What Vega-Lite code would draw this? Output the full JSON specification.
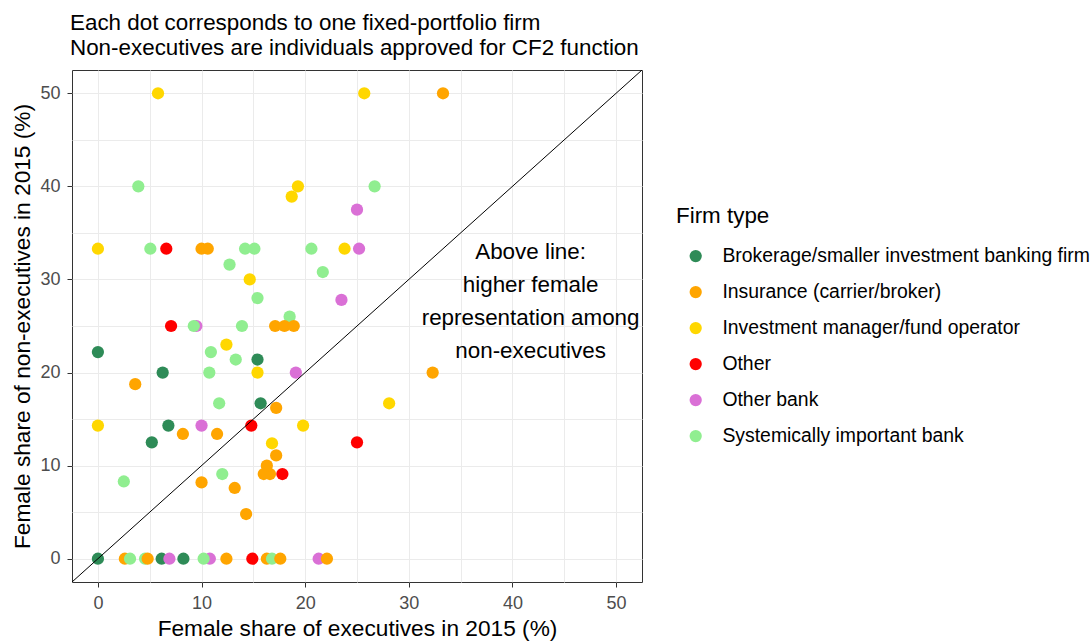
{
  "$schema": "https://vega.github.io/schema/vega-lite/v6.json",
  "width": 570,
  "height": 512,
  "autosize": {"type": "none"},
  "padding": {"left": 72, "top": 70, "right": 449, "bottom": 60},
  "background": "white",
  "config": {
    "font": "Liberation Sans",
    "view": {"stroke": "#333333", "strokeWidth": 1},
    "axis": {
      "domain": false,
      "grid": true,
      "gridColor": "#EBEBEB",
      "gridWidth": 1,
      "tickColor": "#333333",
      "tickSize": 5,
      "tickWidth": 1,
      "labelFont": "Liberation Sans",
      "labelFontSize": 18,
      "labelColor": "#4D4D4D",
      "titleFont": "Liberation Sans",
      "titleFontSize": 22.7,
      "titleFontWeight": "normal",
      "titleColor": "#000000"
    }
  },
  "title": {
    "text": ["Each dot corresponds to one fixed-portfolio firm", "Non-executives are individuals approved for CF2 function"],
    "anchor": "start",
    "frame": "group",
    "font": "Liberation Sans",
    "fontSize": 22.4,
    "fontWeight": "normal",
    "color": "#000000",
    "lineHeight": 25,
    "offset": 11,
    "dx": -2
  },
  "encoding": {
    "x": {
      "field": "x",
      "type": "quantitative",
      "scale": {"domain": [-2.5, 52.5], "nice": false, "zero": false},
      "axis": {
        "title": "Female share of executives in 2015 (%)",
        "values": [0, 5, 10, 15, 20, 25, 30, 35, 40, 45, 50],
        "labelExpr": "datum.value % 10 === 0 ? datum.label : ''",
        "tickOpacity": {"condition": {"test": "datum.value % 10 === 0", "value": 1}, "value": 0},
        "labelPadding": 7,
        "titlePadding": 5
      }
    },
    "y": {
      "field": "y",
      "type": "quantitative",
      "scale": {"domain": [-2.5, 52.5], "nice": false, "zero": false},
      "axis": {
        "title": "Female share of non-executives in 2015 (%)",
        "values": [0, 5, 10, 15, 20, 25, 30, 35, 40, 45, 50],
        "labelExpr": "datum.value % 10 === 0 ? datum.label : ''",
        "tickOpacity": {"condition": {"test": "datum.value % 10 === 0", "value": 1}, "value": 0},
        "labelPadding": 7,
        "titlePadding": 5
      }
    }
  },
  "layer": [
    {
      "data": {
        "values": [
          {"x": 9.5, "y": 25, "type": "Other bank"},
          {"x": 9.25, "y": 25, "type": "Systemically important bank"},
          {"x": 4.55, "y": 0, "type": "Systemically important bank"},
          {"x": 4.8, "y": 0, "type": "Insurance (carrier/broker)"},
          {"x": 6.15, "y": 0, "type": "Brokerage/smaller investment banking firm"},
          {"x": 6.9, "y": 0, "type": "Other bank"},
          {"x": 10.8, "y": 0, "type": "Other bank"},
          {"x": 10.2, "y": 0, "type": "Systemically important bank"},
          {"x": 2.6, "y": 0, "type": "Insurance (carrier/broker)"},
          {"x": 3.1, "y": 0, "type": "Systemically important bank"},
          {"x": 16.3, "y": 0, "type": "Insurance (carrier/broker)"},
          {"x": 16.8, "y": 0, "type": "Systemically important bank"},
          {"x": 17.6, "y": 0, "type": "Insurance (carrier/broker)"},
          {"x": 21.3, "y": 0, "type": "Other bank"},
          {"x": 22.1, "y": 0, "type": "Insurance (carrier/broker)"},
          {"x": 18.5, "y": 26, "type": "Systemically important bank"},
          {"x": 17.1, "y": 25, "type": "Insurance (carrier/broker)"},
          {"x": 18.0, "y": 25, "type": "Insurance (carrier/broker)"},
          {"x": 18.9, "y": 25, "type": "Insurance (carrier/broker)"},
          {"x": 15.7, "y": 16.7, "type": "Brokerage/smaller investment banking firm"},
          {"x": 17.2, "y": 16.2, "type": "Insurance (carrier/broker)"},
          {"x": 15.4, "y": 20, "type": "Investment manager/fund operator"},
          {"x": 15.4, "y": 21.4, "type": "Brokerage/smaller investment banking firm"},
          {"x": 16.8, "y": 12.4, "type": "Investment manager/fund operator"},
          {"x": 17.2, "y": 11.1, "type": "Insurance (carrier/broker)"},
          {"x": 16.0, "y": 9.1, "type": "Insurance (carrier/broker)"},
          {"x": 16.6, "y": 9.1, "type": "Insurance (carrier/broker)"},
          {"x": 16.3, "y": 10.0, "type": "Insurance (carrier/broker)"},
          {"x": 17.8, "y": 9.1, "type": "Other"},
          {"x": 0, "y": 22.2, "type": "Brokerage/smaller investment banking firm"},
          {"x": 6.25, "y": 20, "type": "Brokerage/smaller investment banking firm"},
          {"x": 6.8, "y": 14.3, "type": "Brokerage/smaller investment banking firm"},
          {"x": 5.2, "y": 12.5, "type": "Brokerage/smaller investment banking firm"},
          {"x": 0, "y": 0, "type": "Brokerage/smaller investment banking firm"},
          {"x": 8.25, "y": 0, "type": "Brokerage/smaller investment banking firm"},
          {"x": 33.3, "y": 50, "type": "Insurance (carrier/broker)"},
          {"x": 10.0, "y": 33.3, "type": "Insurance (carrier/broker)"},
          {"x": 10.6, "y": 33.3, "type": "Insurance (carrier/broker)"},
          {"x": 32.3, "y": 20, "type": "Insurance (carrier/broker)"},
          {"x": 3.6, "y": 18.75, "type": "Insurance (carrier/broker)"},
          {"x": 8.2, "y": 13.4, "type": "Insurance (carrier/broker)"},
          {"x": 11.5, "y": 13.4, "type": "Insurance (carrier/broker)"},
          {"x": 10.0, "y": 8.2, "type": "Insurance (carrier/broker)"},
          {"x": 13.2, "y": 7.6, "type": "Insurance (carrier/broker)"},
          {"x": 14.3, "y": 4.8, "type": "Insurance (carrier/broker)"},
          {"x": 12.4, "y": 0, "type": "Insurance (carrier/broker)"},
          {"x": 5.8, "y": 50, "type": "Investment manager/fund operator"},
          {"x": 25.7, "y": 50, "type": "Investment manager/fund operator"},
          {"x": 19.3, "y": 40, "type": "Investment manager/fund operator"},
          {"x": 18.7, "y": 38.9, "type": "Investment manager/fund operator"},
          {"x": 0, "y": 33.3, "type": "Investment manager/fund operator"},
          {"x": 23.8, "y": 33.3, "type": "Investment manager/fund operator"},
          {"x": 14.65, "y": 30, "type": "Investment manager/fund operator"},
          {"x": 12.4, "y": 23, "type": "Investment manager/fund operator"},
          {"x": 28.1, "y": 16.7, "type": "Investment manager/fund operator"},
          {"x": 0, "y": 14.3, "type": "Investment manager/fund operator"},
          {"x": 19.8, "y": 14.3, "type": "Investment manager/fund operator"},
          {"x": 6.6, "y": 33.3, "type": "Other"},
          {"x": 7.06, "y": 25, "type": "Other"},
          {"x": 14.8, "y": 14.3, "type": "Other"},
          {"x": 25.0, "y": 12.5, "type": "Other"},
          {"x": 14.9, "y": 0, "type": "Other"},
          {"x": 25.0, "y": 37.5, "type": "Other bank"},
          {"x": 25.2, "y": 33.3, "type": "Other bank"},
          {"x": 23.5, "y": 27.8, "type": "Other bank"},
          {"x": 19.1, "y": 20, "type": "Other bank"},
          {"x": 10.0, "y": 14.3, "type": "Other bank"},
          {"x": 3.9, "y": 40, "type": "Systemically important bank"},
          {"x": 26.7, "y": 40, "type": "Systemically important bank"},
          {"x": 5.06, "y": 33.3, "type": "Systemically important bank"},
          {"x": 14.2, "y": 33.3, "type": "Systemically important bank"},
          {"x": 15.1, "y": 33.3, "type": "Systemically important bank"},
          {"x": 20.6, "y": 33.3, "type": "Systemically important bank"},
          {"x": 12.7, "y": 31.6, "type": "Systemically important bank"},
          {"x": 21.7, "y": 30.8, "type": "Systemically important bank"},
          {"x": 15.4, "y": 28, "type": "Systemically important bank"},
          {"x": 13.9, "y": 25, "type": "Systemically important bank"},
          {"x": 10.9, "y": 22.2, "type": "Systemically important bank"},
          {"x": 13.3, "y": 21.4, "type": "Systemically important bank"},
          {"x": 10.75, "y": 20, "type": "Systemically important bank"},
          {"x": 11.7, "y": 16.7, "type": "Systemically important bank"},
          {"x": 2.5, "y": 8.3, "type": "Systemically important bank"},
          {"x": 12.0, "y": 9.1, "type": "Systemically important bank"}
        ]
      },
      "mark": {"type": "circle", "size": 150, "opacity": 1},
      "encoding": {
        "color": {
          "field": "type",
          "type": "nominal",
          "scale": {
            "domain": ["Brokerage/smaller investment banking firm", "Insurance (carrier/broker)", "Investment manager/fund operator", "Other", "Other bank", "Systemically important bank"],
            "range": ["#2E8B57", "#FFA500", "#FFD700", "#FF0000", "#DA70D6", "#90EE90"]
          },
          "legend": {
            "title": "Firm type",
            "orient": "none",
            "legendX": 604,
            "legendY": 135,
            "padding": 0,
            "titleFont": "Liberation Sans",
            "titleFontSize": 22.4,
            "titleFontWeight": "normal",
            "titleColor": "#000000",
            "titlePadding": 19,
            "labelFont": "Liberation Sans",
            "labelFontSize": 19.4,
            "labelColor": "#000000",
            "symbolType": "circle",
            "symbolSize": 150,
            "symbolStrokeWidth": 0,
            "symbolOpacity": 1,
            "symbolOffset": 10,
            "labelOffset": 17,
            "rowPadding": 15,
            "labelLimit": 500
          }
        }
      }
    },
    {
      "data": {"values": [{"x": -2.5, "y": -2.5}, {"x": 52.5, "y": 52.5}]},
      "mark": {"type": "line", "color": "#000000", "strokeWidth": 1, "clip": true},
      "encoding": {}
    },
    {
      "data": {"values": [{"x": 41.75, "y": 32.9, "label": "Above line:\nhigher female\nrepresentation among\nnon-executives"}]},
      "mark": {"type": "text", "font": "Liberation Sans", "fontSize": 22.4, "lineBreak": "\n", "lineHeight": 32.8, "align": "center", "baseline": "middle", "color": "#000000"},
      "encoding": {"text": {"field": "label"}}
    }
  ]
}
